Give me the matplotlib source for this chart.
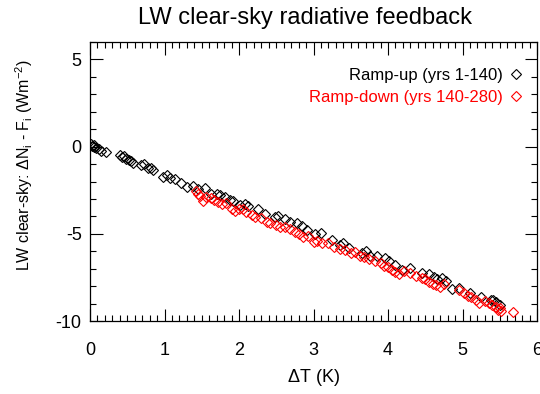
import matplotlib
matplotlib.use("Agg")
import matplotlib.pyplot as plt
from matplotlib.ticker import MultipleLocator

plt.rcParams['font.family'] = ['Liberation Sans', 'DejaVu Sans']
plt.rcParams['mathtext.fontset'] = 'custom'
plt.rcParams['mathtext.rm'] = 'Liberation Sans'
plt.rcParams['mathtext.it'] = 'Liberation Sans'
plt.rcParams['axes.unicode_minus'] = False

# Ramp-up (yrs 1-140)
up_dT = [0.02, 0.03, 0.05, 0.06, 0.08, 0.12, 0.15, 0.22, 0.40, 0.43,
         0.46, 0.48, 0.52, 0.55, 0.58, 0.68, 0.72, 0.78, 0.82, 0.85,
         0.98, 1.03, 1.08, 1.14, 1.22, 1.30, 1.38, 1.45, 1.54, 1.62,
         1.71, 1.75, 1.81, 1.88, 1.92, 2.02, 2.08, 2.12, 2.25, 2.35,
         2.48, 2.52, 2.62, 2.69, 2.78, 2.85, 2.91, 3.02, 3.10, 3.25,
         3.36, 3.40, 3.47, 3.65, 3.70, 3.76, 3.85, 3.96, 4.02, 4.10,
         4.19, 4.30, 4.46, 4.55, 4.62, 4.66, 4.72, 4.78, 4.86, 4.95,
         5.10, 5.25, 5.38, 5.41, 5.45, 5.50]
up_dN = [0.15, 0.05, -0.05, 0.10, -0.10, -0.15, -0.25, -0.30, -0.50, -0.60,
         -0.55, -0.70, -0.75, -0.80, -0.95, -1.05, -1.00, -1.25, -1.20, -1.35,
         -1.75, -1.65, -1.80, -1.85, -2.10, -2.30, -2.23, -2.45, -2.35, -2.70,
         -2.70, -2.75, -2.90, -3.05, -3.10, -3.35, -3.30, -3.40, -3.60, -3.85,
         -4.05, -3.95, -4.15, -4.35, -4.40, -4.55, -4.80, -5.00, -4.95, -5.35,
         -5.67, -5.55, -5.80, -6.10, -6.00, -6.25, -6.30, -6.40, -6.55, -6.80,
         -7.10, -6.95, -7.27, -7.30, -7.45, -7.57, -7.55, -7.70, -8.15, -8.10,
         -8.40, -8.60, -8.80, -8.80, -8.90, -9.10]

# Ramp-down (yrs 140-280)
down_dT = [1.42, 1.45, 1.48, 1.52, 1.56, 1.62, 1.66, 1.72, 1.77, 1.82,
           1.90, 1.95, 2.00, 2.05, 2.10, 2.18, 2.22, 2.30, 2.38, 2.42,
           2.50, 2.55, 2.62, 2.69, 2.75, 2.80, 2.86, 2.92, 3.00, 3.05,
           3.12, 3.20, 3.28, 3.36, 3.42, 3.50, 3.56, 3.62, 3.68, 3.75,
           3.82, 3.90, 3.95, 4.00, 4.05, 4.10, 4.15, 4.22, 4.30, 4.38,
           4.45, 4.50, 4.55, 4.60, 4.65, 4.70, 4.75, 4.95, 5.02, 5.08,
           5.12, 5.18, 5.22, 5.30, 5.36, 5.40, 5.45, 5.48, 5.50, 5.52,
           5.68]
down_dN = [-2.55, -2.70, -2.85, -3.10, -2.90, -2.95, -3.05, -3.20, -3.30, -3.25,
           -3.55, -3.70, -3.60, -3.55, -3.75, -3.90, -4.05, -4.10, -4.30, -4.40,
           -4.50, -4.60, -4.60, -4.75, -4.90, -5.00, -5.20, -5.15, -5.45, -5.40,
           -5.55, -5.55, -5.75, -5.85, -5.90, -6.10, -6.05, -6.25, -6.35, -6.45,
           -6.55, -6.70, -6.85, -6.90, -7.05, -7.20, -7.30, -7.15, -7.25, -7.40,
           -7.55, -7.60, -7.75, -7.85, -7.95, -8.05, -7.90, -8.25, -8.40, -8.55,
           -8.65, -8.80, -8.95, -8.85, -8.95, -9.10, -9.20, -9.35, -9.25, -9.45,
           -9.50]

fig = plt.figure(figsize=(5.4, 3.94), dpi=100)
ax = fig.add_axes([90 / 540, 1 - 321 / 394, 447 / 540, 279 / 394])

ax.plot(up_dT, up_dN, 'D', ms=4.6, color='black', mfc='none', mew=0.8,
        label='Ramp-up (yrs 1-140)')
ax.plot(down_dT, down_dN, 'D', ms=4.6, color='red', mfc='none', mew=0.8,
        label='Ramp-down (yrs 140-280)')

ax.set_xlim(0, 6)
ax.set_ylim(-10, 6)
ax.xaxis.set_major_locator(MultipleLocator(1))
ax.xaxis.set_minor_locator(MultipleLocator(0.1))
ax.yaxis.set_major_locator(MultipleLocator(5))
ax.yaxis.set_minor_locator(MultipleLocator(1))
ax.tick_params(which='both', direction='in', top=True, right=True, width=0.8)
ax.tick_params(which='major', length=9)
ax.tick_params(which='minor', length=4.5)
ax.tick_params(axis='x', which='major', pad=15, labelsize=13)
ax.tick_params(axis='y', which='major', pad=6, labelsize=13)
for s in ax.spines.values():
    s.set_linewidth(0.9)

ax.set_title('LW clear-sky radiative feedback', fontsize=17, pad=13, x=0.48)
ax.set_xlabel(r'$\Delta$T (K)', fontsize=13, labelpad=6)
ax.set_ylabel(r'LW clear-sky: $\Delta$N$_\mathregular{i}$ - F$_\mathregular{i}$ (Wm$^\mathregular{-2}$)',
              fontsize=11.5)
ax.yaxis.set_label_coords(-0.123, 0.56)

ax.legend(loc='upper right', markerfirst=False, frameon=False, fontsize=12,
          handlelength=0.8, handletextpad=0.4, labelspacing=0.4,
          labelcolor='linecolor', borderaxespad=1.0, numpoints=1,
          bbox_to_anchor=(1.02, 0.99))

fig.savefig('out.png', dpi=100)
